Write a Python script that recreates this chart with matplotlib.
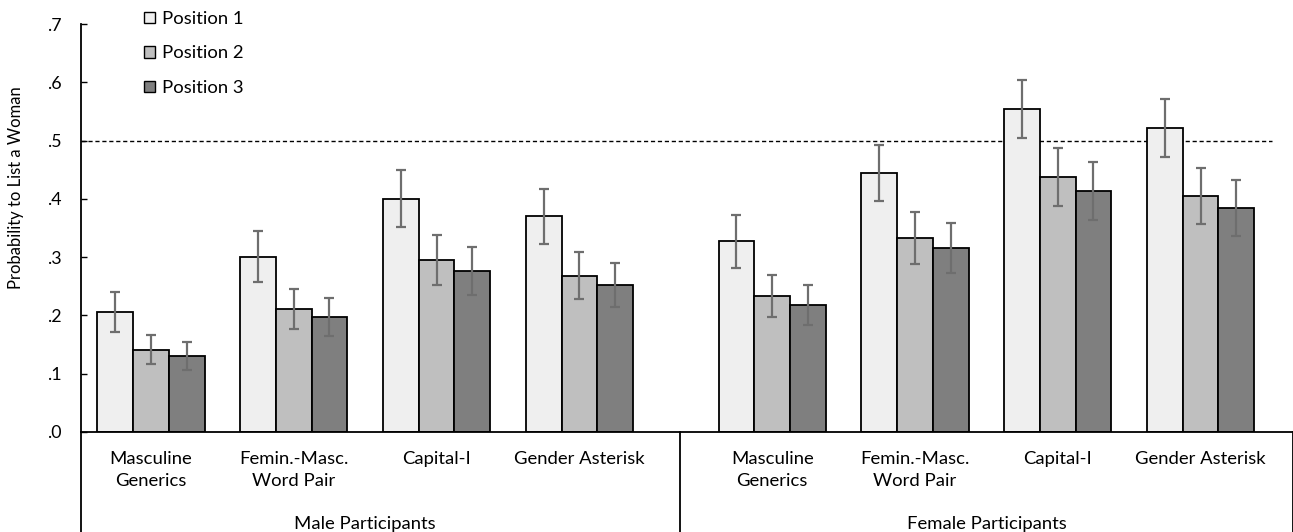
import numpy as np
import matplotlib
matplotlib.use("Agg")
import matplotlib.pyplot as plt
from matplotlib.patches import Patch
from matplotlib.ticker import FuncFormatter
from matplotlib.transforms import blended_transform_factory

plt.rcParams["font.family"] = ["Lato", "DejaVu Sans"]

# Data
# =======================
conditions = ["Masculine\nGenerics", "Femin.-Masc.\nWord Pair", "Capital-I", "Gender Asterisk"]
participant_groups = ["Male Participants", "Female Participants"]
positions = ["Position 1", "Position 2", "Position 3"]

# rows: position 1..3, columns: male (4 conditions) then female (4 conditions)
means = [
    [0.206, 0.301, 0.400, 0.370, 0.327, 0.444, 0.554, 0.521],
    [0.141, 0.211, 0.295, 0.268, 0.233, 0.333, 0.437, 0.405],
    [0.130, 0.197, 0.276, 0.252, 0.218, 0.315, 0.414, 0.384],
]
errors = [
    [0.034, 0.043, 0.049, 0.047, 0.045, 0.048, 0.050, 0.050],
    [0.025, 0.034, 0.043, 0.040, 0.036, 0.044, 0.050, 0.048],
    [0.024, 0.033, 0.041, 0.038, 0.035, 0.043, 0.050, 0.048],
]
reference_line = 0.5

colors = ["#efefef", "#bfbfbf", "#7f7f7f"]

# Layout
# ======
fig = plt.figure(figsize=(12.93, 5.32), dpi=100)
ax = fig.add_axes([81 / 1293, 100 / 532, 1212 / 1293, 408 / 532])

group_x = np.concatenate([np.arange(4) + 0.49, np.arange(4) + 4.84])
bar_w = 0.25
separator_x = 4.195

for i, (pos, col) in enumerate(zip(positions, colors)):
    x = group_x + (i - 1) * bar_w
    ax.bar(x, means[i], width=bar_w, color=col, edgecolor="black",
           linewidth=1.3, label=pos, zorder=2)
    ax.errorbar(x, means[i], yerr=errors[i], fmt="none", ecolor="#6e6e6e",
                elinewidth=1.6, capsize=3.5, capthick=1.6, zorder=3)

ax.axhline(reference_line, xmin=0, xmax=8.338 / 8.487, color="black",
           linestyle=(0, (3, 2)), linewidth=1.0, zorder=1)

ax.set_xlim(0, 8.487)
ax.set_ylim(0, 0.7)
ax.set_yticks(np.arange(0, 0.71, 0.1))
ax.yaxis.set_major_formatter(FuncFormatter(lambda v, p: f"{v:.1f}".lstrip("0")))
ax.tick_params(axis="y", direction="in", length=4.5, width=1.0, pad=14,
               labelsize=12.8, colors="black")
ax.set_ylabel("Probability to List a Woman", fontsize=12)
ax.yaxis.set_label_coords(-0.047, 0.598)

ax.set_xticks(group_x)
ax.set_xticklabels(conditions * 2, fontsize=13.3, linespacing=1.45)
ax.tick_params(axis="x", length=0, pad=14)

for side in ["top", "right"]:
    ax.spines[side].set_visible(False)
ax.spines["left"].set_linewidth(1.3)
ax.spines["bottom"].set_linewidth(1.3)

# group labels and separators below the axis
trans = blended_transform_factory(ax.transData, ax.transAxes)
bottom = -100 / 408
for xs in [0, separator_x, 8.487 - 0.002]:
    ax.plot([xs, xs], [0, bottom], transform=trans, color="black",
            linewidth=1.3, clip_on=False)
ax.text(np.mean(group_x[:4]), -92 / 408, participant_groups[0], transform=trans,
        ha="center", va="center", fontsize=13.3)
ax.text(np.mean(group_x[4:]), -92 / 408, participant_groups[1], transform=trans,
        ha="center", va="center", fontsize=13.3)

handles = [Patch(facecolor=c, edgecolor="black", linewidth=1.0) for c in colors]
fig.legend(handles, positions, loc="upper left",
           bbox_to_anchor=(144 / 1293, 1 - 11 / 532), frameon=False,
           fontsize=13.3, handlelength=0.6, handleheight=0.6,
           handletextpad=0.35, labelspacing=1.0, borderpad=0, borderaxespad=0)

plt.savefig("out.png", dpi=100)
